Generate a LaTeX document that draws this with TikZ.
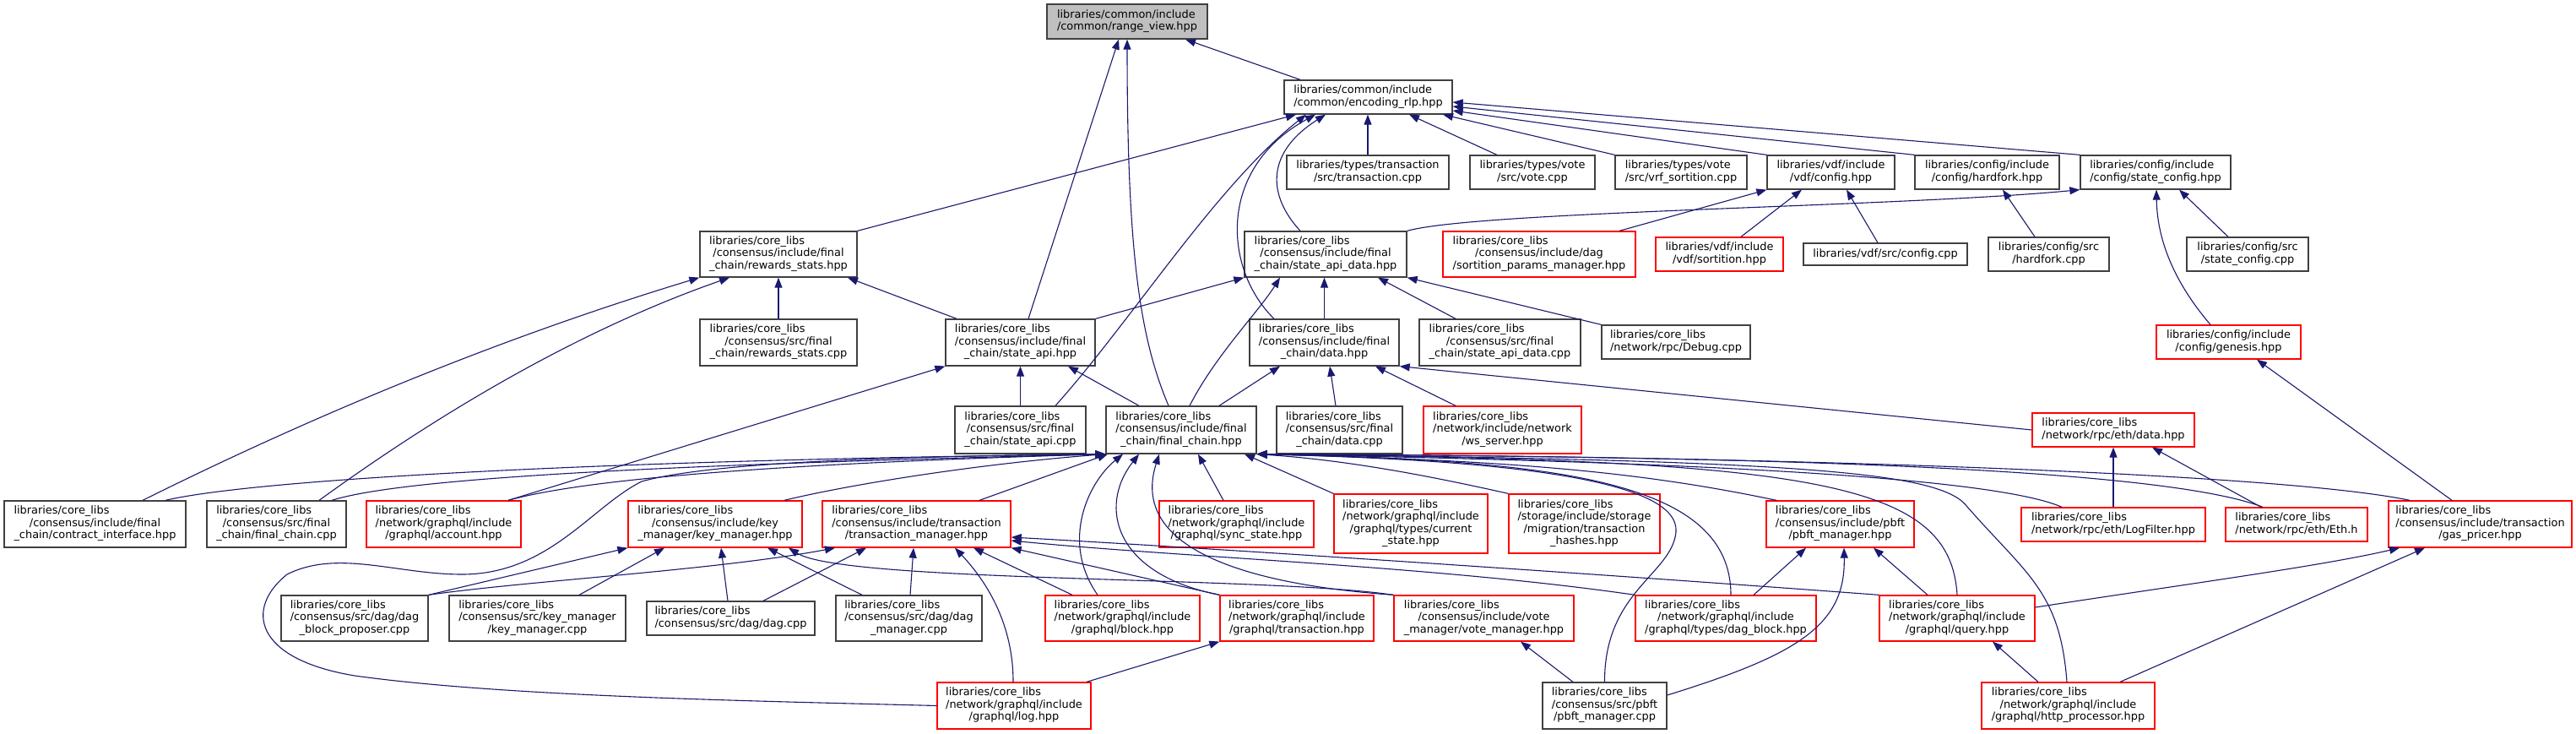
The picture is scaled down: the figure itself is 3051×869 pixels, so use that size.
\documentclass[tikz,border=0pt]{standalone}
\usepackage{fontspec}
\setmainfont{DejaVu Sans}
\usetikzlibrary{arrows.meta}
\definecolor{edgec}{HTML}{191970}
\definecolor{bordc}{HTML}{404040}
\definecolor{rootc}{HTML}{BFBFBF}
\newcommand\lbl[2]{\begin{tabular}{@{}c@{}}\multicolumn{1}{@{}l@{}}{#1}\\#2\end{tabular}}
\begin{document}
\begin{tikzpicture}[x=1pt,y=-1pt,
  nb/.style={draw=bordc, line width=1.3pt, inner sep=0pt, font=\fontsize{12.9}{14.5}\selectfont, text=black, fill=white},
  rb/.style={nb, draw=red},
  edge/.style={draw=edgec, line width=1.1pt, -{Triangle[length=12pt,width=9pt]}}]
\useasboundingbox (0,0) rectangle (3051,869);
\fill[white] (0,0) rectangle (3051,869);
% nodes
\node[nb, fill=rootc, minimum width=190pt, minimum height=41pt] (rv) at (1335,25.5) {\lbl{libraries/common/include}{/common/range\_view.hpp}};
\node[nb, minimum width=199pt, minimum height=40pt] (enc) at (1620.5,115) {\lbl{libraries/common/include}{/common/encoding\_rlp.hpp}};
\node[nb, minimum width=192pt, minimum height=40pt] (txcpp) at (1620,204) {\lbl{libraries/types/transaction}{/src/transaction.cpp}};
\node[nb, minimum width=148pt, minimum height=40pt] (votecpp) at (1815,204) {\lbl{libraries/types/vote}{/src/vote.cpp}};
\node[nb, minimum width=156pt, minimum height=40pt] (vrf) at (1991,204) {\lbl{libraries/types/vote}{/src/vrf\_sortition.cpp}};
\node[nb, minimum width=151pt, minimum height=40pt] (vdfcfg) at (2168.5,204) {\lbl{libraries/vdf/include}{/vdf/config.hpp}};
\node[nb, minimum width=171pt, minimum height=40pt] (hardfork) at (2353.5,204) {\lbl{libraries/config/include}{/config/hardfork.hpp}};
\node[nb, minimum width=178pt, minimum height=40pt] (statecfg) at (2553,204) {\lbl{libraries/config/include}{/config/state\_config.hpp}};
\node[nb, minimum width=186pt, minimum height=54pt] (rws) at (922,301) {\lbl{libraries/core\_libs}{/consensus/include/final\\\_chain/rewards\_stats.hpp}};
\node[nb, minimum width=192pt, minimum height=54pt] (sad) at (1570,301) {\lbl{libraries/core\_libs}{/consensus/include/final\\\_chain/state\_api\_data.hpp}};
\node[rb, minimum width=228pt, minimum height=54pt] (spm) at (1823,301) {\lbl{libraries/core\_libs}{/consensus/include/dag\\/sortition\_params\_manager.hpp}};
\node[rb, minimum width=151pt, minimum height=40pt] (vsort) at (2036.5,301) {\lbl{libraries/vdf/include}{/vdf/sortition.hpp}};
\node[nb, minimum width=194pt, minimum height=26pt] (vcfgcpp) at (2233,301) {libraries/vdf/src/config.cpp};
\node[nb, minimum width=143pt, minimum height=40pt] (hfcpp) at (2426.5,301) {\lbl{libraries/config/src}{/hardfork.cpp}};
\node[nb, minimum width=144pt, minimum height=40pt] (sccpp) at (2662,301) {\lbl{libraries/config/src}{/state\_config.cpp}};
\node[nb, minimum width=186pt, minimum height=55pt] (rwscpp) at (922,405.5) {\lbl{libraries/core\_libs}{/consensus/src/final\\\_chain/rewards\_stats.cpp}};
\node[nb, minimum width=177pt, minimum height=55pt] (sa) at (1208.5,405.5) {\lbl{libraries/core\_libs}{/consensus/include/final\\\_chain/state\_api.hpp}};
\node[nb, minimum width=177pt, minimum height=55pt] (data) at (1568.5,405.5) {\lbl{libraries/core\_libs}{/consensus/include/final\\\_chain/data.hpp}};
\node[nb, minimum width=191pt, minimum height=55pt] (sadcpp) at (1776.5,405.5) {\lbl{libraries/core\_libs}{/consensus/src/final\\\_chain/state\_api\_data.cpp}};
\node[nb, minimum width=176pt, minimum height=40pt] (debug) at (1985,405) {\lbl{libraries/core\_libs}{/network/rpc/Debug.cpp}};
\node[rb, minimum width=171pt, minimum height=40pt] (genesis) at (2639.5,405) {\lbl{libraries/config/include}{/config/genesis.hpp}};
\node[nb, minimum width=155pt, minimum height=56pt] (sacpp) at (1208.5,509) {\lbl{libraries/core\_libs}{/consensus/src/final\\\_chain/state\_api.cpp}};
\node[nb, minimum width=178pt, minimum height=56pt] (fc) at (1399,509) {\lbl{libraries/core\_libs}{/consensus/include/final\\\_chain/final\_chain.hpp}};
\node[nb, minimum width=149pt, minimum height=56pt] (datacpp) at (1586.5,509) {\lbl{libraries/core\_libs}{/consensus/src/final\\\_chain/data.cpp}};
\node[rb, minimum width=187pt, minimum height=56pt] (ws) at (1779.5,509) {\lbl{libraries/core\_libs}{/network/include/network\\/ws\_server.hpp}};
\node[rb, minimum width=192pt, minimum height=40pt] (ethdata) at (2503,509) {\lbl{libraries/core\_libs}{/network/rpc/eth/data.hpp}};
\node[nb, minimum width=215pt, minimum height=55pt] (ci) at (112.5,620.5) {\lbl{libraries/core\_libs}{/consensus/include/final\\\_chain/contract\_interface.hpp}};
\node[nb, minimum width=165pt, minimum height=55pt] (fccpp) at (327.5,620.5) {\lbl{libraries/core\_libs}{/consensus/src/final\\\_chain/final\_chain.cpp}};
\node[rb, minimum width=183pt, minimum height=55pt] (acct) at (525.5,620.5) {\lbl{libraries/core\_libs}{/network/graphql/include\\/graphql/account.hpp}};
\node[rb, minimum width=206pt, minimum height=55pt] (km) at (847,620.5) {\lbl{libraries/core\_libs}{/consensus/include/key\\\_manager/key\_manager.hpp}};
\node[rb, minimum width=223pt, minimum height=55pt] (tm) at (1085.5,620.5) {\lbl{libraries/core\_libs}{/consensus/include/transaction\\/transaction\_manager.hpp}};
\node[rb, minimum width=183pt, minimum height=55pt] (sync) at (1464.5,620.5) {\lbl{libraries/core\_libs}{/network/graphql/include\\/graphql/sync\_state.hpp}};
\node[rb, minimum width=182pt, minimum height=70pt] (cs) at (1671,620) {\lbl{libraries/core\_libs}{/network/graphql/include\\/graphql/types/current\\\_state.hpp}};
\node[rb, minimum width=179pt, minimum height=70pt] (mig) at (1876.5,620) {\lbl{libraries/core\_libs}{/storage/include/storage\\/migration/transaction\\\_hashes.hpp}};
\node[rb, minimum width=175pt, minimum height=55pt] (pbfth) at (2179.5,620.5) {\lbl{libraries/core\_libs}{/consensus/include/pbft\\/pbft\_manager.hpp}};
\node[rb, minimum width=218pt, minimum height=40pt] (logf) at (2503,621) {\lbl{libraries/core\_libs}{/network/rpc/eth/LogFilter.hpp}};
\node[rb, minimum width=168pt, minimum height=40pt] (eth) at (2720,621) {\lbl{libraries/core\_libs}{/network/rpc/eth/Eth.h}};
\node[rb, minimum width=217pt, minimum height=55pt] (gas) at (2937.5,620.5) {\lbl{libraries/core\_libs}{/consensus/include/transaction\\/gas\_pricer.hpp}};
\node[nb, minimum width=174pt, minimum height=54pt] (dbp) at (420,732) {\lbl{libraries/core\_libs}{/consensus/src/dag/dag\\\_block\_proposer.cpp}};
\node[nb, minimum width=209pt, minimum height=54pt] (kmcpp) at (636.5,732) {\lbl{libraries/core\_libs}{/consensus/src/key\_manager\\/key\_manager.cpp}};
\node[nb, minimum width=199pt, minimum height=40pt] (dag) at (865.5,732) {\lbl{libraries/core\_libs}{/consensus/src/dag/dag.cpp}};
\node[nb, minimum width=173pt, minimum height=54pt] (dmcpp) at (1076.5,732) {\lbl{libraries/core\_libs}{/consensus/src/dag/dag\\\_manager.cpp}};
\node[rb, minimum width=183pt, minimum height=54pt] (block) at (1329.5,732) {\lbl{libraries/core\_libs}{/network/graphql/include\\/graphql/block.hpp}};
\node[rb, minimum width=182pt, minimum height=54pt] (gtx) at (1536,732) {\lbl{libraries/core\_libs}{/network/graphql/include\\/graphql/transaction.hpp}};
\node[rb, minimum width=213pt, minimum height=54pt] (vm) at (1757.5,732) {\lbl{libraries/core\_libs}{/consensus/include/vote\\\_manager/vote\_manager.hpp}};
\node[rb, minimum width=214pt, minimum height=54pt] (dagb) at (2044,732) {\lbl{libraries/core\_libs}{/network/graphql/include\\/graphql/types/dag\_block.hpp}};
\node[rb, minimum width=184pt, minimum height=54pt] (query) at (2318,732) {\lbl{libraries/core\_libs}{/network/graphql/include\\/graphql/query.hpp}};
\node[rb, minimum width=182pt, minimum height=55pt] (log) at (1201,835.5) {\lbl{libraries/core\_libs}{/network/graphql/include\\/graphql/log.hpp}};
\node[nb, minimum width=147pt, minimum height=55pt] (pbftcpp) at (1900.5,835.5) {\lbl{libraries/core\_libs}{/consensus/src/pbft\\/pbft\_manager.cpp}};
\node[rb, minimum width=205pt, minimum height=55pt] (http) at (2449.5,835.5) {\lbl{libraries/core\_libs}{/network/graphql/include\\/graphql/http\_processor.hpp}};
% ---------------- edges ----------------
% into range_view
\draw[edge] (enc.north -| 1540,0) -- (rv.south -| 1404,0);
\draw[edge] (sa.north -| 1218,0) -- (rv.south -| 1325,0);
\draw[edge] (fc.north -| 1384,0) .. controls (1350,400) and (1335,300) .. (rv.south -| 1335,0);
% into encoding_rlp
\draw[edge] (rws.north east) -- (enc.south -| 1535,0);
\draw[edge] (sacpp.north -| 1250,0) .. controls (1340,380) and (1440,220) .. (enc.south -| 1547,0);
\draw[edge] (data.north -| 1509,0) .. controls (1450,320) and (1440,200) .. (enc.south -| 1558,0);
\draw[edge] (sad.north -| 1540,0) .. controls (1500,230) and (1500,180) .. (enc.south -| 1570,0);
\draw[edge] (txcpp.north) -- (enc.south -| txcpp.north);
\draw[edge] (votecpp.north -| 1773,0) -- (enc.south -| 1669,0);
\draw[edge] (vrf.north west) -- (enc.south -| 1709,0);
\draw[edge] (vdfcfg.north west) -- (enc.east |- 0,131);
\draw[edge] (hardfork.north west) -- (enc.east |- 0,126);
\draw[edge] (statecfg.north west) -- (enc.east |- 0,121);
% into vdf config / hardfork / state_config
\draw[edge] (spm.north -| 1918,0) -- (vdfcfg.south west);
\draw[edge] (vsort.north -| 2062,0) -- (vdfcfg.south -| 2134,0);
\draw[edge] (vcfgcpp.north -| 2224,0) -- (vdfcfg.south -| 2187,0);
\draw[edge] (hfcpp.north -| 2410,0) -- (hardfork.south -| 2372,0);
\draw[edge] (sccpp.north -| 2639,0) -- (statecfg.south -| 2581,0);
\draw[edge] (genesis.north -| 2618,0) .. controls (2580,340) and (2555,290) .. (statecfg.south -| 2554,0);
\draw[edge] (sad.north east) .. controls (1750,250) and (2250,245) .. (statecfg.south west);
% into rewards_stats
\draw[edge] (rwscpp.north) -- (rws.south);
\draw[edge] (sa.north -| 1133,0) -- (rws.south -| 1004,0);
\draw[edge] (ci.north -| 169,0) .. controls (389,483) and (609,395) .. (rws.south west);
\draw[edge] (fccpp.north -| 378,0) .. controls (540,475) and (702,385) .. (rws.south -| 864,0);
% into state_api
\draw[edge] (sacpp.north) -- (sa.south);
\draw[edge] (fc.north -| 1349,0) -- (sa.south -| 1265,0);
\draw[edge] (acct.north -| 602,0) -- (sa.south west);
% into state_api_data
\draw[edge] (sa.north east) -- (sad.south west);
\draw[edge] (fc.north -| 1409,0) .. controls (1440,420) and (1490,370) .. (sad.south -| 1516,0);
\draw[edge] (data.north) -- (sad.south -| data.north);
\draw[edge] (sadcpp.north -| 1724,0) -- (sad.south -| 1632,0);
\draw[edge] (debug.north west) -- (sad.south east);
% into data.hpp
\draw[edge] (fc.north -| 1444,0) -- (data.south -| 1516,0);
\draw[edge] (datacpp.north -| 1582,0) -- (data.south -| 1575,0);
\draw[edge] (ws.north -| 1724,0) -- (data.south -| 1629,0);
\draw[edge] (ethdata.west) -- (data.south east);
% into eth/data, genesis
\draw[edge] (logf.north) -- (ethdata.south);
\draw[edge] (eth.north -| 2678,0) -- (ethdata.south -| 2549,0);
\draw[edge] (gas.north -| 2904,0) -- (genesis.south -| 2673,0);
% into pbft_manager.hpp, vote_manager, graphql transaction, query, gas_pricer
\draw[edge] (dagb.north -| 2077,0) -- (pbfth.south -| 2139,0);
\draw[edge] (pbftcpp.east |- 0,823) .. controls (2130,775) and (2186,740) .. (pbfth.south -| 2184,0);
\draw[edge] (query.north -| 2283,0) -- (pbfth.south -| 2219,0);
\draw[edge] (pbftcpp.north -| 1863,0) -- (vm.south -| 1801,0);
\draw[edge] (log.north -| 1287,0) -- (gtx.south west);
\draw[edge] (http.north -| 2414,0) -- (query.south -| 2360,0);
\draw[edge] (http.north -| 2511,0) -- (gas.south -| 2872,0);
\draw[edge] (query.east |- 0,719) .. controls (2600,690) and (2750,670) .. (gas.south -| 2842,0);
% into key_manager.hpp
\draw[edge] (dbp.north east) -- (km.south west);
\draw[edge] (kmcpp.north -| 686,0) -- (km.south -| 787,0);
\draw[edge] (dag.north -| 862,0) -- (km.south -| 854,0);
\draw[edge] (dmcpp.north -| 1021,0) -- (km.south -| 909,0);
\draw[edge] (vm.north west) .. controls (1500,682) and (1000,690) .. (km.south -| 934,0);
% into transaction_manager.hpp
\draw[edge] (dbp.north east) .. controls (620,688) and (850,675) .. (tm.south -| 989,0);
\draw[edge] (dag.north -| 904,0) -- (tm.south -| 1026,0);
\draw[edge] (dmcpp.north -| 1078,0) -- (tm.south -| 1082,0);
\draw[edge] (log.north -| 1200,0) .. controls (1200,740) and (1170,690) .. (tm.south -| 1131,0);
\draw[edge] (block.north -| 1270,0) -- (tm.south -| 1153,0);
\draw[edge] (gtx.north west) -- (tm.south east);
\draw[edge] (dagb.north west) .. controls (1700,670) and (1400,660) .. (tm.east |- 0,640);
\draw[edge] (query.north west) .. controls (1900,680) and (1450,650) .. (tm.east |- 0,636);
% into final_chain.hpp
\draw[edge] (ci.north -| 196,0) .. controls (300,568) and (700,545) .. (fc.south west);
\draw[edge] (fccpp.north -| 393,0) .. controls (480,565) and (800,550) .. (fc.south west);
\draw[edge] (acct.north -| 602,0) .. controls (700,565) and (950,548) .. (fc.south west);
\draw[edge] (km.north -| 929,0) .. controls (1000,575) and (1150,550) .. (fc.south west);
\draw[edge] (tm.north -| 1160,0) -- (fc.south -| 1312,0);
\draw[edge] (log.west) .. controls (900,830) and (600,825) .. (420,800) .. controls (300,780) and (290,720) .. (340,680) .. controls (400,650) and (470,680) .. (547,680) .. controls (650,680) and (700,600) .. (760,570) .. controls (850,545) and (1100,540) .. (fc.south west);
\draw[edge] (block.north -| 1300,0) .. controls (1255,640) and (1290,570) .. (fc.south -| 1330,0);
\draw[edge] (gtx.north west) .. controls (1320,680) and (1300,600) .. (fc.south -| 1349,0);
\draw[edge] (vm.north west) .. controls (1450,690) and (1340,640) .. (fc.south -| 1373,0);
\draw[edge] (sync.north -| 1449,0) -- (fc.south -| 1419,0);
\draw[edge] (cs.north west) -- (fc.south -| 1474,0);
\draw[edge] (mig.north west) .. controls (1700,565) and (1600,545) .. (fc.south east);
\draw[edge] (pbfth.north -| 2104,0) .. controls (1950,560) and (1800,545) .. (fc.south east);
\draw[edge] (dagb.north -| 2050,0) .. controls (2050,570) and (1850,545) .. (fc.south east);
\draw[edge] (pbftcpp.north) .. controls (1900,700) and (1980,680) .. (1985,630) .. controls (1990,570) and (1800,545) .. (fc.south east);
\draw[edge] (logf.north -| 2442,0) .. controls (2350,560) and (1900,545) .. (fc.south east);
\draw[edge] (eth.north -| 2680,0) .. controls (2550,550) and (2000,540) .. (fc.south east);
\draw[edge] (gas.north -| 2854,0) .. controls (2700,560) and (2100,540) .. (fc.south east);
\draw[edge] (query.north) .. controls (2310,570) and (2150,545) .. (fc.south east);
\draw[edge] (http.north -| 2448,0) .. controls (2440,700) and (2400,680) .. (2330,600) .. controls (2300,560) and (2150,545) .. (fc.south east);
\end{tikzpicture}
\end{document}
